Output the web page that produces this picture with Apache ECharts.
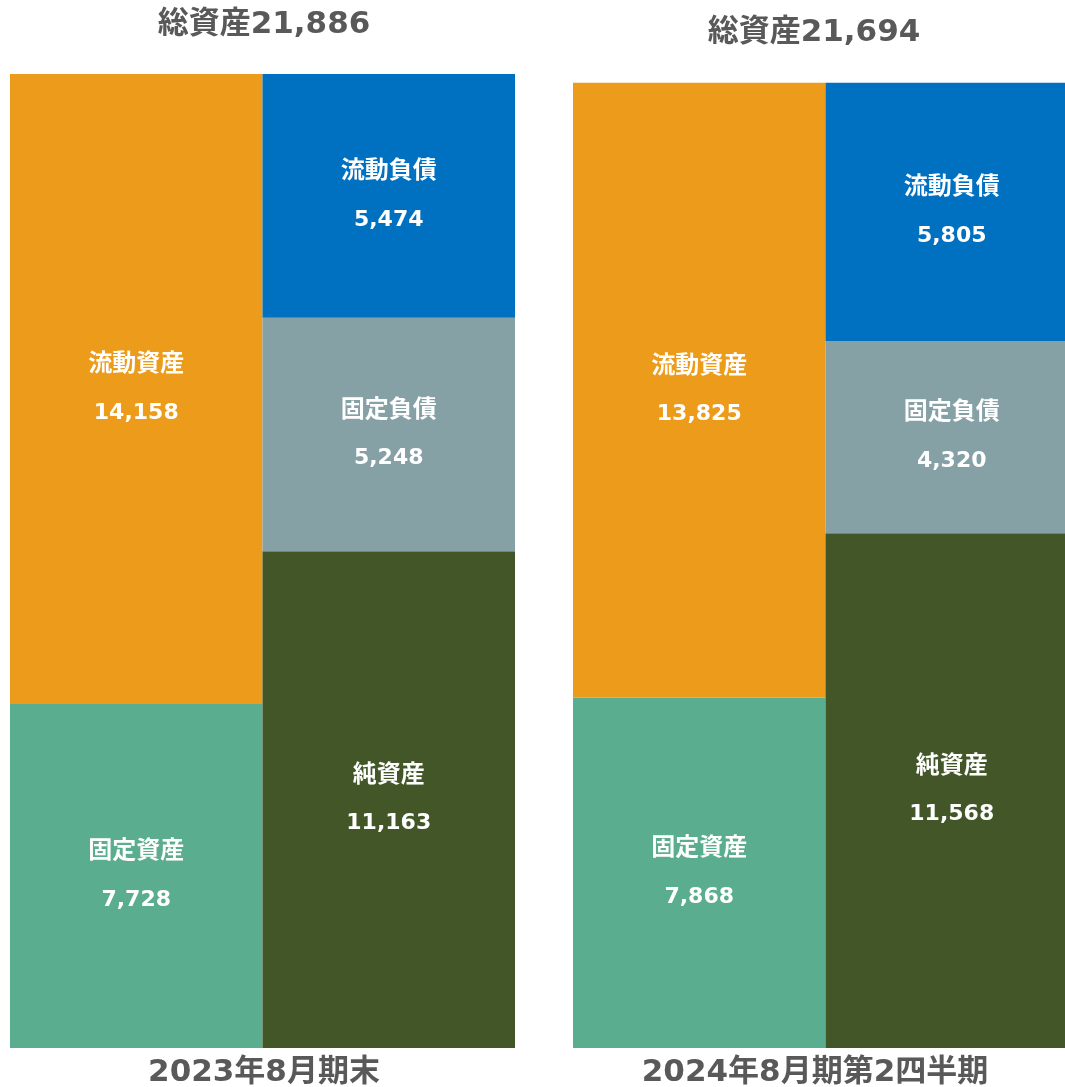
<!DOCTYPE html>
<html><head><meta charset="utf-8">
<script src="https://cdn.jsdelivr.net/npm/echarts@6/dist/echarts.min.js"></script>
<style>html,body{margin:0;padding:0;background:#fff}#c{width:1065px;height:1087px}</style>
</head><body><div id="c"></div>
<script>
const periods = ['2023年8月期末', '2024年8月期第2四半期'];
const totals = [21886, 21694];
const currentAssets = [14158, 13825];
const fixedAssets = [7728, 7868];
const currentLiab = [5474, 5805];
const fixedLiab = [5248, 4320];
const netAssets = [11163, 11568];
const names = {fa:'固定資産', ca:'流動資産', na:'純資産', fl:'固定負債', cl:'流動負債'};
const colors = {fa:'#5AAD8F', ca:'#EC9C1A', na:'#435628', fl:'#86A1A6', cl:'#0070C0'};

const FONT = '"DejaVu Sans", "Noto Sans CJK JP", sans-serif';
const fmt = v => v.toLocaleString('en-US');
const chart = echarts.init(document.getElementById('c'));

const gridLefts = [10, 573];
const grids = [], xAxes = [], yAxes = [], series = [];
periods.forEach((p, i) => {
  grids.push({left: gridLefts[i], width: 505, top: 69, bottom: 39, outerBoundsMode: 'none', containLabel: false});
  xAxes.push({type: 'category', gridIndex: i, data: [p], show: false});
  yAxes.push({type: 'value', gridIndex: i, min: 0, max: 22000, show: false});
  const mk = (key, arr, stack) => ({
    type: 'bar', name: names[key], xAxisIndex: i, yAxisIndex: i, stack: stack + i,
    data: [arr[i]], barGap: '0%', barCategoryGap: '0%',
    itemStyle: {color: colors[key]},
    label: {
      show: true, position: 'inside',
      formatter: (d) => '{n|' + d.seriesName + '}\n{v|' + fmt(d.value) + '}',
      rich: {
        n: {fontSize: 24, fontWeight: 'bold', color: '#fff', lineHeight: 48, fontFamily: FONT},
        v: {fontSize: 22, fontWeight: 'bold', color: '#fff', lineHeight: 48, fontFamily: FONT}
      }
    }
  });
  series.push(mk('fa', fixedAssets, 'a'));
  series.push(mk('ca', currentAssets, 'a'));
  series.push(mk('na', netAssets, 'l'));
  series.push(mk('fl', fixedLiab, 'l'));
  series.push(mk('cl', currentLiab, 'l'));
});

const titleX = [264, 814];
const titleY = [25, 33];
const bottomX = [264, 815];
const graphics = [];
periods.forEach((p, i) => {
  graphics.push({type: 'text', x: titleX[i], y: titleY[i],
    style: {text: '総資産' + fmt(totals[i]), fill: '#595959', font: 'bold 31px ' + FONT,
      textAlign: 'center', textVerticalAlign: 'middle'}});
  graphics.push({type: 'text', x: bottomX[i], y: 1073,
    style: {text: p, fill: '#595959', font: 'bold 31px ' + FONT,
      textAlign: 'center', textVerticalAlign: 'middle'}});
});

chart.setOption({
  animation: false,
  backgroundColor: '#fff',
  grid: grids, xAxis: xAxes, yAxis: yAxes, series: series,
  graphic: graphics
});
</script></body></html>
